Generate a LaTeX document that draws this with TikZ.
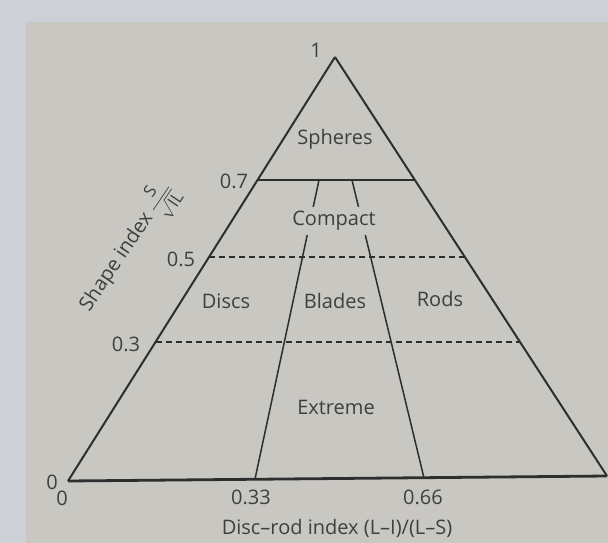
\documentclass[tikz,border=0pt]{standalone}
\usepackage{amsmath}
\usepackage{fontspec}
\setmainfont{Open Sans}
\usepackage{pgf, tikz}
\definecolor{ink}{HTML}{2E2E2E}
\definecolor{txt}{HTML}{3F3F3F}
\definecolor{paper}{HTML}{C8C7C2}
\definecolor{rim}{HTML}{CDD1D7}
\pgfdeclarelayer{bglayer}
\pgfdeclarelayer{edgelayer}
\pgfdeclarelayer{nodelayer}
\pgfsetlayers{bglayer,edgelayer,nodelayer,main}
\tikzstyle{edge}=[draw=ink, line width=2pt]
\tikzstyle{base}=[draw=ink, line width=2.8pt]
\tikzstyle{divide}=[draw=ink, line width=1.5pt]
\tikzstyle{cutline}=[draw=ink, line width=1.5pt, dash pattern=on 6pt off 4pt]
\tikzstyle{region}=[text=txt, font=\fontsize{20}{22}\selectfont, inner sep=0pt]
\tikzstyle{tick}=[text=txt, font=\fontsize{20}{22}\selectfont, inner sep=0pt]

\begin{document}
\begin{tikzpicture}[x=1pt, y=-1pt]
				\begin{pgfonlayer}{bglayer}
					\fill [rim] (0, 0) rectangle (608, 543);
					\fill [paper] (26, 22) rectangle (608, 543);
				\end{pgfonlayer}
				\useasboundingbox (0, 0) rectangle (608, 543);
				\coordinate (1) at (335, 57);
				\coordinate (2) at (68, 481);
				\coordinate (3) at (607, 476);
				\coordinate (4) at (257.5, 180);
				\coordinate (5) at (414.8, 180);
				\coordinate (6) at (209, 257);
				\coordinate (7) at (464.8, 257);
				\coordinate (8) at (155.5, 342);
				\coordinate (9) at (520, 342);
				\coordinate (10) at (319, 180);
				\coordinate (11) at (255, 479);
				\coordinate (12) at (352, 180);
				\coordinate (13) at (424, 478);
				\begin{pgfonlayer}{nodelayer}
					\node [style=region] (14) at (335, 139) {Spheres};
					\node [style=region, fill=paper, inner sep=4pt] (15) at (334, 221) {Compact};
					\node [style=region] (16) at (226, 301) {Discs};
					\node [style=region] (17) at (335, 301) {Blades};
					\node [style=region] (18) at (440, 299) {Rods};
					\node [style=region] (19) at (336, 407) {Extreme};
					\node [style=tick] (20) at (316, 50) {1};
					\node [style=tick] (21) at (234, 181) {0.7};
					\node [style=tick] (22) at (181, 259) {0.5};
					\node [style=tick] (23) at (126, 344) {0.3};
					\node [style=tick] (24) at (52, 482) {0};
					\node [style=tick] (25) at (62, 498) {0};
					\node [style=tick] (26) at (251, 497) {0.33};
					\node [style=tick] (27) at (423, 497) {0.66};
					\node [style=tick] (28) at (337, 528) {Disc--rod index (L--I)/(L--S)};
					\node [style=tick, rotate=56] (29) at (128, 248) {Shape index {\fontsize{17}{18}\selectfont$\dfrac{\text{S}}{\sqrt{\text{IL}}}$}};
				\end{pgfonlayer}
				\begin{pgfonlayer}{edgelayer}
					\draw [style=edge] (2) to (1);
					\draw [style=edge] (1) to (3);
					\draw [style=base] (2) to (3);
					\draw [style=divide] (4) to (5);
					\draw [style=cutline] (6) to (7);
					\draw [style=cutline] (8) to (9);
					\draw [style=divide] (10) to (11);
					\draw [style=divide] (12) to (13);
				\end{pgfonlayer}
			\end{tikzpicture}
\end{document}
